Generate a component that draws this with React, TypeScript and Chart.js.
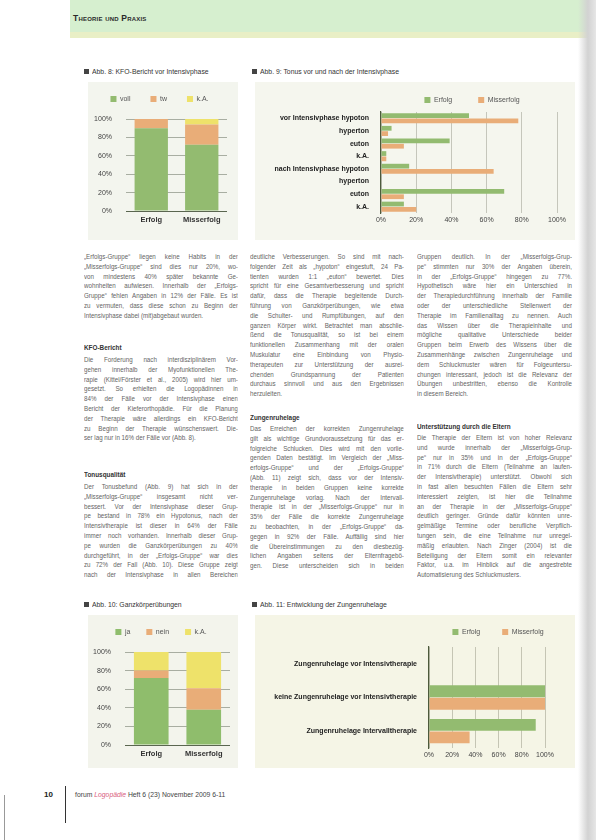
import React, { useEffect, useRef } from 'react';
import { Chart, registerables } from 'chart.js';

Chart.register(...registerables);

// ---------- data ----------
const kfoCategories = ['Erfolg', 'Misserfolg'];
const kfoSeriesNames = ['voll', 'tw', 'k.A.'];
const kfoVoll = [90, 72];
const kfoTw = [10, 22];
const kfoKA = [0, 6];

const tonusCategories = [
  'vor Intensivphase hypoton',
  'hyperton',
  'euton',
  'k.A.',
  'nach Intensivphase hypoton',
  'hyperton',
  'euton',
  'k.A.',
];
const groupNames = ['Erfolg', 'Misserfolg'];
const tonusErfolg = [50, 6, 39, 3, 16, 0, 70, 13];
const tonusMisserfolg = [78, 4, 13, 3, 64, 0, 13, 20];

const gkCategories = ['Erfolg', 'Misserfolg'];
const gkSeriesNames = ['ja', 'nein', 'k.A.'];
const gkJa = [72, 38];
const gkNein = [8, 23];
const gkKA = [20, 39];

const zrCategories = [
  'Zungenruhelage vor Intensivtherapie',
  'keine Zungenruhelage vor Intensivtherapie',
  'Zungenruhelage Intervalltherapie',
];
const zrErfolg = [0, 100, 92];
const zrMisserfolg = [0, 100, 35];

const percentMax = 100;
const percentStep = 20;

const titles = [
  'Abb. 8: KFO-Bericht vor Intensivphase',
  'Abb. 9: Tonus vor und nach der Intensivphase',
  'Abb. 10: Ganzkörperübungen',
  'Abb. 11: Entwicklung der Zungenruhelage',
];

// ---------- body text ----------
const col1 = [
  { y: 252, lines: [
    '„Erfolgs-Gruppe“ liegen keine Habits in der',
    '„Misserfolgs-Gruppe“ sind dies nur 20%, wo-',
    'von mindestens 40% später bekannte Ge-',
    'wohnheiten aufwiesen. Innerhalb der „Erfolgs-',
    'Gruppe“ fehlen Angaben in 12% der Fälle. Es ist',
    'zu vermuten, dass diese schon zu Beginn der',
    'Intensivphase dabei (mit)abgebaut wurden.',
  ] },
  { y: 343, heading: 'KFO-Bericht' },
  { y: 355, lines: [
    'Die Forderung nach interdisziplinärem Vor-',
    'gehen innerhalb der Myofunktionellen The-',
    'rapie (Kittel/Förster et al., 2005) wird hier um-',
    'gesetzt. So erhielten die Logopädinnen in',
    '84% der Fälle vor der Intensivphase einen',
    'Bericht der Kieferorthopädie. Für die Planung',
    'der Therapie wäre allerdings ein KFO-Bericht',
    'zu Beginn der Therapie wünschenswert. Die-',
    'ser lag nur in 16% der Fälle vor (Abb. 8).',
  ] },
  { y: 470, heading: 'Tonusqualität' },
  { y: 482, lines: [
    'Der Tonusbefund (Abb. 9) hat sich in der',
    '„Misserfolgs-Gruppe“ insgesamt nicht ver-',
    'bessert. Vor der Intensivphase dieser Grup-',
    'pe bestand in 78% ein Hypotonus, nach der',
    'Intensivtherapie ist dieser in 64% der Fälle',
    'immer noch vorhanden. Innerhalb dieser Grup-',
    'pe wurden die Ganzkörperübungen zu 40%',
    'durchgeführt, in der „Erfolgs-Gruppe“ war dies',
    'zu 72% der Fall (Abb. 10). Diese Gruppe zeigt',
    'nach der Intensivphase in allen Bereichen',
  ], open: true },
];

const col2 = [
  { y: 252, lines: [
    'deutliche Verbesserungen. So sind mit nach-',
    'folgender Zeit als „hypoton“ eingestuft, 24 Pa-',
    'tienten wurden 1:1 „euton“ bewertet. Dies',
    'spricht für eine Gesamtverbesserung und spricht',
    'dafür, dass die Therapie begleitende Durch-',
    'führung von Ganzkörperübungen, wie etwa',
    'die Schulter- und Rumpfübungen, auf den',
    'ganzen Körper wirkt. Betrachtet man abschlie-',
    'ßend die Tonusqualität, so ist bei einem',
    'funktionellen Zusammenhang mit der oralen',
    'Muskulatur eine Einbindung von Physio-',
    'therapeuten zur Unterstützung der ausrei-',
    'chenden Grundspannung der Patienten',
    'durchaus sinnvoll und aus den Ergebnissen',
    'herzuleiten.',
  ] },
  { y: 413, heading: 'Zungenruhelage' },
  { y: 424, lines: [
    'Das Erreichen der korrekten Zungenruhelage',
    'gilt als wichtige Grundvoraussetzung für das er-',
    'folgreiche Schlucken. Dies wird mit den vorlie-',
    'genden Daten bestätigt. Im Vergleich der „Miss-',
    'erfolgs-Gruppe“ und der „Erfolgs-Gruppe“',
    '(Abb. 11) zeigt sich, dass vor der Intensiv-',
    'therapie in beiden Gruppen keine korrekte',
    'Zungenruhelage vorlag. Nach der Intervall-',
    'therapie ist in der „Misserfolgs-Gruppe“ nur in',
    '35% der Fälle die korrekte Zungenruhelage',
    'zu beobachten, in der „Erfolgs-Gruppe“ da-',
    'gegen in 92% der Fälle. Auffällig sind hier',
    'die Übereinstimmungen zu den diesbezüg-',
    'lichen Angaben seitens der Elternfragebö-',
    'gen. Diese unterscheiden sich in beiden',
  ], open: true },
];

const col3 = [
  { y: 252, lines: [
    'Gruppen deutlich. In der „Misserfolgs-Grup-',
    'pe“ stimmten nur 30% der Angaben überein,',
    'in der „Erfolgs-Gruppe“ hingegen zu 77%.',
    'Hypothetisch wäre hier ein Unterschied in',
    'der Therapiedurchführung innerhalb der Familie',
    'oder der unterschiedliche Stellenwert der',
    'Therapie im Familienalltag zu nennen. Auch',
    'das Wissen über die Therapieinhalte und',
    'mögliche qualitative Unterschiede beider',
    'Gruppen beim Erwerb des Wissens über die',
    'Zusammenhänge zwischen Zungenruhelage und',
    'dem Schluckmuster wären für Folgeuntersu-',
    'chungen interessant, jedoch ist die Relevanz der',
    'Übungen unbestritten, ebenso die Kontrolle',
    'in diesem Bereich.',
  ] },
  { y: 422, heading: 'Unterstützung durch die Eltern' },
  { y: 433, lines: [
    'Die Therapie der Eltern ist von hoher Relevanz',
    'und wurde innerhalb der „Misserfolgs-Grup-',
    'pe“ nur in 35% und in der „Erfolgs-Gruppe“',
    'in 71% durch die Eltern (Teilnahme an laufen-',
    'der Intensivtherapie) unterstützt. Obwohl sich',
    'in fast allen besuchten Fällen die Eltern sehr',
    'interessiert zeigten, ist hier die Teilnahme',
    'an der Therapie in der „Misserfolgs-Gruppe“',
    'deutlich geringer. Gründe dafür könnten unre-',
    'gelmäßige Termine oder berufliche Verpflich-',
    'tungen sein, die eine Teilnahme nur unregel-',
    'mäßig erlaubten. Nach Zinger (2004) ist die',
    'Beteiligung der Eltern somit ein relevanter',
    'Faktor, u.a. im Hinblick auf die angestrebte',
    'Automatisierung des Schluckmusters.',
  ] },
];

// ---------- styles ----------
const FONT = "'Liberation Sans', Arial, sans-serif";
const CFONT = "'Liberation Sans Narrow', 'Liberation Sans', Arial, sans-serif";
const GREEN = '#93bb70';
const ORANGE = '#e9ad78';
const YELLOW = '#eee26a';
const LH = 9.8;
const SX = 0.84;

const pct = (v: any) => v + '%';

function tune(o: { legendH: number; legendY: number; dx: number; pad: number }) {
  return {
    id: 'tune',
    beforeInit(chart: any) {
      const lg = chart.legend;
      if (!lg) return;
      const fit = lg.fit;
      lg.fit = function () {
        fit.call(this);
        this.height = o.legendH;
      };
    },
    afterLayout(chart: any) {
      const lg = chart.legend;
      if (!lg) return;
      const top = o.legendY - o.pad - 3.5;
      lg.left += o.dx;
      lg.right += o.dx;
      lg.top = top;
      lg.bottom = top + o.pad * 2 + 20;
    },
  };
}

function legendOpts(pad: number) {
  return {
    labels: {
      boxWidth: 6,
      boxHeight: 6,
      padding: pad,
      color: '#555',
      font: { size: 7, family: CFONT },
    },
  };
}

function Block({ x, w, b }: any) {
  if (b.heading) {
    return (
      <div style={{ position: 'absolute', left: x, top: b.y, width: w / SX, transform: `scaleX(${SX})`, transformOrigin: 'left top', fontSize: 7.6, fontWeight: 'bold', color: '#333', lineHeight: LH + 'px', whiteSpace: 'nowrap' }}>
        {b.heading}
      </div>
    );
  }
  return (
    <div style={{ position: 'absolute', left: x, top: b.y, width: w / SX, transform: `scaleX(${SX})`, transformOrigin: 'left top', fontSize: 7.4, color: '#646464' }}>
      {b.lines.map((l: string, i: number) => {
        const last = i === b.lines.length - 1 && !b.open;
        return (
          <div key={i} style={{ height: LH, lineHeight: LH + 'px', overflow: 'hidden', textAlign: 'justify', textAlignLast: last ? 'left' : 'justify' } as any}>
            {l}
          </div>
        );
      })}
    </div>
  );
}

function Title({ x, y, text }: any) {
  return (
    <div style={{ position: 'absolute', left: x, top: y, fontSize: 7.6, color: '#333', whiteSpace: 'nowrap', display: 'flex', alignItems: 'center' }}>
      <span style={{ display: 'inline-block', width: 4.5, height: 4.5, background: '#444', marginRight: 3.5 }} />
      <span style={{ display: 'inline-block', transform: 'scaleX(0.9)', transformOrigin: 'left center' }}>{text}</span>
    </div>
  );
}

export default function App() {
  const r1 = useRef<HTMLCanvasElement>(null);
  const r2 = useRef<HTMLCanvasElement>(null);
  const r3 = useRef<HTMLCanvasElement>(null);
  const r4 = useRef<HTMLCanvasElement>(null);

  useEffect(() => {
    Chart.defaults.font.family = CFONT;
    Chart.defaults.font.size = 7;
    const charts: Chart[] = [];

    const hGrid = (ctx: any) => (ctx.tick && ctx.tick.value === 0 ? '#5a6650' : 'rgba(105,115,100,0.55)');

    // Abb. 8
    charts.push(new Chart(r1.current as HTMLCanvasElement, {
      type: 'bar',
      data: {
        labels: kfoCategories,
        datasets: [
          { label: kfoSeriesNames[0], data: kfoVoll, backgroundColor: GREEN },
          { label: kfoSeriesNames[1], data: kfoTw, backgroundColor: ORANGE },
          { label: kfoSeriesNames[2], data: kfoKA, backgroundColor: YELLOW },
        ],
      },
      options: {
        responsive: false,
        animation: false,
        layout: { padding: { left: 0, right: 11, top: 0, bottom: 0 } },
        datasets: { bar: { barPercentage: 0.66, categoryPercentage: 1 } },
        plugins: { legend: legendOpts(20) as any, tooltip: { enabled: false } },
        scales: {
          x: {
            stacked: true,
            grid: { display: false, drawTicks: false },
            border: { display: false },
            ticks: { padding: 4, color: '#333', font: { size: 7.5, weight: 'bold' } },
            afterFit: (s: any) => { s.height = 29; },
          },
          y: {
            stacked: true,
            min: 0,
            max: percentMax,
            z: 1,
            ticks: { stepSize: percentStep, padding: 14, callback: pct, color: '#444' },
            grid: { color: hGrid, drawTicks: false },
            border: { display: false },
            afterFit: (s: any) => { s.width = 38; },
          },
        },
      } as any,
      plugins: [tune({ legendH: 37, legendY: 17, dx: 2, pad: 20 })],
    }));

    // Abb. 9
    charts.push(new Chart(r2.current as HTMLCanvasElement, {
      type: 'bar',
      data: {
        labels: tonusCategories,
        datasets: [
          { label: groupNames[0], data: tonusErfolg, backgroundColor: GREEN },
          { label: groupNames[1], data: tonusMisserfolg, backgroundColor: ORANGE },
        ],
      },
      options: {
        indexAxis: 'y',
        responsive: false,
        animation: false,
        layout: { padding: { left: 0, right: 18, top: 0, bottom: 0 } },
        datasets: { bar: { barPercentage: 0.9, categoryPercentage: 0.84 } },
        plugins: { legend: legendOpts(26) as any, tooltip: { enabled: false } },
        scales: {
          x: {
            min: 0,
            max: percentMax,
            ticks: { stepSize: percentStep, padding: 3, callback: pct, color: '#444', maxRotation: 0, minRotation: 0 },
            grid: { color: 'rgba(150,150,135,0.5)', drawTicks: false },
            border: { display: false },
            afterFit: (s: any) => { s.height = 27; },
          },
          y: {
            grid: { display: false, drawTicks: false },
            border: { display: true, color: '#4d5a3c', width: 1.2 },
            ticks: { padding: 12, color: '#222', font: { size: 7, weight: 'bold' } },
            afterFit: (s: any) => { s.width = 126; },
          },
        },
      } as any,
      plugins: [tune({ legendH: 30, legendY: 18, dx: 66, pad: 26 })],
    }));

    // Abb. 10
    charts.push(new Chart(r3.current as HTMLCanvasElement, {
      type: 'bar',
      data: {
        labels: gkCategories,
        datasets: [
          { label: gkSeriesNames[0], data: gkJa, backgroundColor: '#8fbd6c' },
          { label: gkSeriesNames[1], data: gkNein, backgroundColor: ORANGE },
          { label: gkSeriesNames[2], data: gkKA, backgroundColor: YELLOW },
        ],
      },
      options: {
        responsive: false,
        animation: false,
        layout: { padding: { left: 0, right: 8, top: 0, bottom: 0 } },
        datasets: { bar: { barPercentage: 0.66, categoryPercentage: 1 } },
        plugins: { legend: legendOpts(16) as any, tooltip: { enabled: false } },
        scales: {
          x: {
            stacked: true,
            grid: { display: false, drawTicks: false },
            border: { display: false },
            ticks: { padding: 4, color: '#333', font: { size: 7.5, weight: 'bold' } },
            afterFit: (s: any) => { s.height = 23; },
          },
          y: {
            stacked: true,
            min: 0,
            max: percentMax,
            z: 1,
            ticks: { stepSize: percentStep, padding: 14, callback: pct, color: '#444' },
            grid: { color: hGrid, drawTicks: false },
            border: { display: false },
            afterFit: (s: any) => { s.width = 37; },
          },
        },
      } as any,
      plugins: [tune({ legendH: 37, legendY: 17, dx: 2, pad: 16 })],
    }));

    // Abb. 11
    charts.push(new Chart(r4.current as HTMLCanvasElement, {
      type: 'bar',
      data: {
        labels: zrCategories,
        datasets: [
          { label: groupNames[0], data: zrErfolg, backgroundColor: GREEN },
          { label: groupNames[1], data: zrMisserfolg, backgroundColor: ORANGE },
        ],
      },
      options: {
        indexAxis: 'y',
        responsive: false,
        animation: false,
        layout: { padding: { left: 0, right: 30, top: 0, bottom: 0 } },
        datasets: { bar: { barPercentage: 0.95, categoryPercentage: 0.74 } },
        plugins: { legend: legendOpts(22) as any, tooltip: { enabled: false } },
        scales: {
          x: {
            min: 0,
            max: percentMax,
            z: 1,
            ticks: { stepSize: percentStep, padding: 3, callback: pct, color: '#444', maxRotation: 0, minRotation: 0, autoSkip: false },
            grid: { color: 'rgba(140,140,120,0.45)', drawTicks: false },
            border: { display: false },
            afterFit: (s: any) => { s.height = 20; },
          },
          y: {
            grid: { display: false, drawTicks: false },
            border: { display: true, color: '#4d5a3c', width: 1.2 },
            ticks: { padding: 12, color: '#222', font: { size: 7, weight: 'bold' } },
            afterFit: (s: any) => { s.width = 174; },
          },
        },
      } as any,
      plugins: [tune({ legendH: 32, legendY: 17, dx: 98, pad: 22 })],
    }));

    return () => charts.forEach((c) => c.destroy());
  }, []);

  const box = (x: number, y: number, w: number, h: number, bg: string, ref: any) => (
    <div style={{ position: 'absolute', left: x, top: y, width: w, height: h, background: bg }}>
      <canvas ref={ref} width={w} height={h} style={{ display: 'block' }} />
    </div>
  );

  return (
    <div style={{ position: 'absolute', left: 0, top: 0, width: 596, height: 840, background: '#fff', overflow: 'hidden', fontFamily: FONT }}>
      {/* header */}
      <div style={{ position: 'absolute', left: 70, top: 0, width: 526, height: 32, background: '#d6efcf' }} />
      <div style={{ position: 'absolute', left: 70, top: 32, width: 526, height: 6, background: '#e9efc6' }} />
      <div style={{ position: 'absolute', left: 73, top: 13, fontSize: 8.5, fontWeight: 'bold', fontVariant: 'small-caps', color: '#2a2a2a', letterSpacing: 0.2 }}>
        Theorie und Praxis
      </div>

      {/* titles */}
      <Title x={84} y={67} text={titles[0]} />
      <Title x={252} y={67} text={titles[1]} />
      <Title x={84} y={600} text={titles[2]} />
      <Title x={252} y={600} text={titles[3]} />

      {/* charts */}
      {box(88, 82, 150, 158, '#f3f5ee', r1)}
      {box(255, 82, 320, 158, '#f5f6ee', r2)}
      {box(88, 615, 150, 153, '#f3f4ec', r3)}
      {box(255, 615, 320, 153, '#f5f5e6', r4)}

      {/* body text */}
      {col1.map((b, i) => <Block key={'a' + i} x={84} w={154} b={b} />)}
      {col2.map((b, i) => <Block key={'b' + i} x={250} w={154} b={b} />)}
      {col3.map((b, i) => <Block key={'c' + i} x={417} w={155} b={b} />)}

      {/* footer */}
      <div style={{ position: 'absolute', left: 44, top: 790, fontSize: 8, fontWeight: 'bold', color: '#222' }}>10</div>
      <div style={{ position: 'absolute', left: 65, top: 786, width: 1, height: 37, background: '#333' }} />
      <div style={{ position: 'absolute', left: 75, top: 791, fontSize: 6.8, color: '#444', whiteSpace: 'nowrap' }}>
        forum <span style={{ color: '#d8607e', fontStyle: 'italic' }}>Logopädie</span>{'    '}Heft 6 (23) November 2009{'    '}6-11
      </div>

      {/* scan edges */}
      <div style={{ position: 'absolute', left: 578, top: 0, width: 18, height: 840, background: 'linear-gradient(to right, rgba(255,255,255,0), #d2d2d2 55%, #e6e6e6)' }} />
      <div style={{ position: 'absolute', left: 4, top: 795, width: 1, height: 45, background: '#999' }} />
    </div>
  );
}
